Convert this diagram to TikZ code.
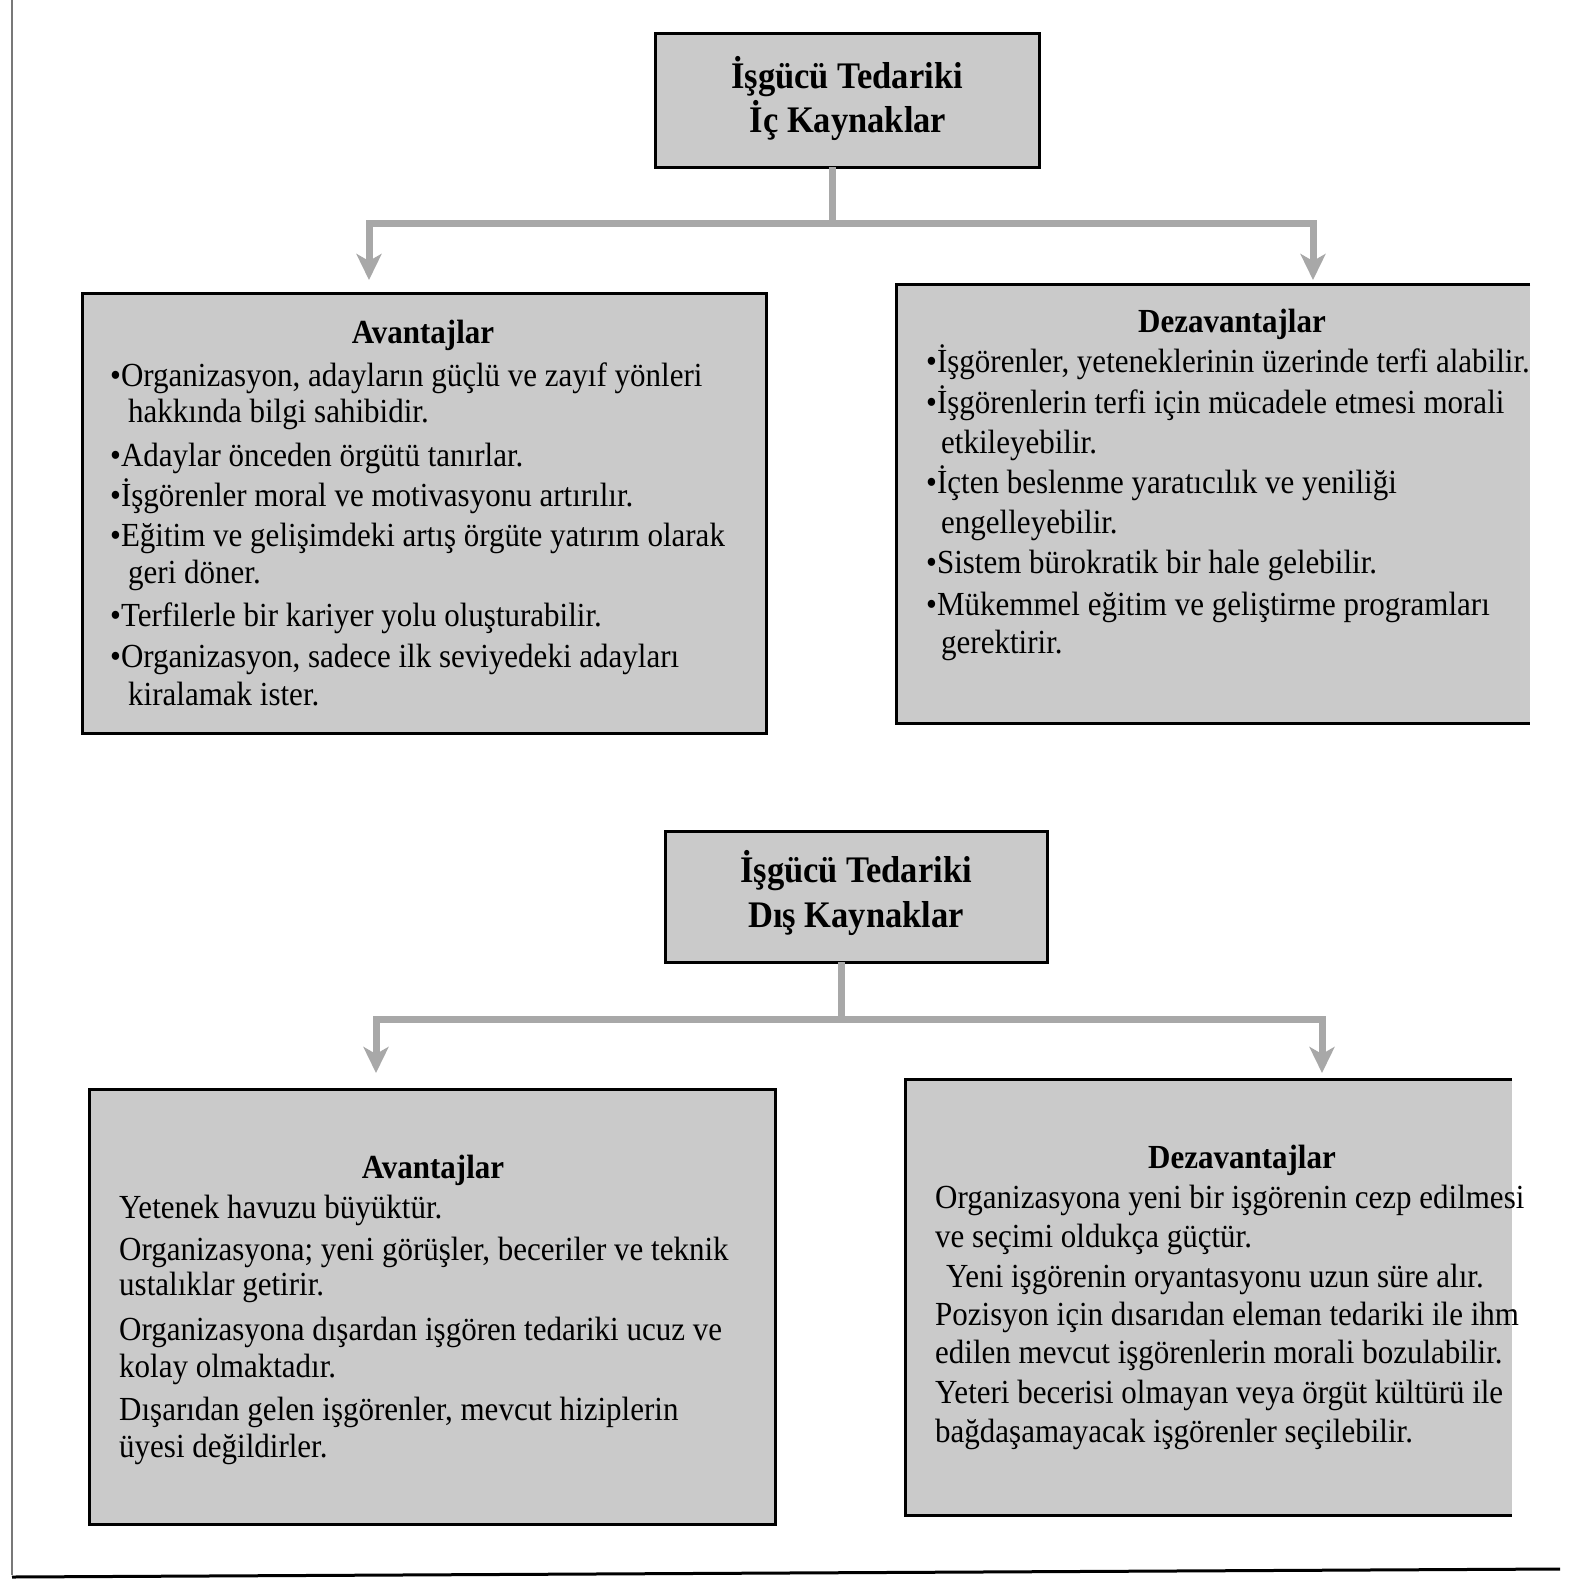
\documentclass[tikz,border=0pt]{standalone}
\usepackage{fontspec}
\setmainfont{Liberation Serif}[FakeStretch=0.92]
\usetikzlibrary{arrows.meta}
\definecolor{boxgray}{RGB}{202,202,202}
\definecolor{conngray}{RGB}{168,168,168}
\definecolor{framegray}{RGB}{120,120,120}
\begin{document}
\begin{tikzpicture}[x=1pt,y=-1pt,
  boxfill/.style={fill=boxgray, draw=none, inner sep=0pt, outer sep=0pt, anchor=north west},
  border/.style={draw=black, line width=3pt},
  body/.style={font=\fontsize{33.7}{40}\selectfont, inner sep=0pt, anchor=base west},
  head/.style={font=\bfseries\fontsize{33.7}{40}\selectfont, inner sep=0pt, anchor=base},
  title/.style={font=\bfseries\fontsize{37.5}{44}\selectfont, inner sep=0pt, anchor=base},
  conn/.style={draw=conngray, line width=7pt},
  arr/.style={conn, -{Stealth[length=26pt,width=25pt,inset=7pt,fill=conngray]}},
]
\useasboundingbox (0,0) rectangle (1588,1588);
\fill[white] (0,0) rectangle (1588,1588);

% page frame remnants
\draw[framegray, line width=2pt] (12,0) -- (12,1575);
\draw[black, line width=3pt] (12,1577) -- (1560,1569);

% boxes
\node[boxfill, minimum width=384pt, minimum height=134pt] (t1) at (655,33) {};
\node[boxfill, minimum width=684pt, minimum height=440pt] (a1) at (82,293) {};
\node[boxfill, minimum width=634pt, minimum height=439pt] (d1) at (896,284) {};
\node[boxfill, minimum width=382pt, minimum height=131pt] (t2) at (665,831) {};
\node[boxfill, minimum width=686pt, minimum height=435pt] (a2) at (89,1089) {};
\node[boxfill, minimum width=607pt, minimum height=436pt] (d2) at (905,1079) {};

\draw[border] (t1.north west) rectangle (t1.south east);
\draw[border] (a1.north west) rectangle (a1.south east);
\draw[border] (d1.north east) -- (d1.north west) -- (d1.south west) -- (d1.south east);
\draw[border] (t2.north west) rectangle (t2.south east);
\draw[border] (a2.north west) rectangle (a2.south east);
\draw[border] (d2.north east) -- (d2.north west) -- (d2.south west) -- (d2.south east);

% connectors
\coordinate (j1) at (832,223);
\coordinate (tipL1) at (369,280);
\coordinate (tipR1) at (1313,280);
\draw[conn] (t1.south -| j1) -- (j1);
\draw[arr] (j1) -| (tipL1);
\draw[arr] (j1) -| (tipR1);

\coordinate (j2) at (841,1019);
\coordinate (tipL2) at (376,1073);
\coordinate (tipR2) at (1322,1073);
\draw[conn] (t2.south -| j2) -- (j2);
\draw[arr] (j2) -| (tipL2);
\draw[arr] (j2) -| (tipR2);

% titles
\node[title] (t1a) at (847,88) {İşgücü Tedariki};
\node[title] (t1b) at (848,132) {İç Kaynaklar};
\node[title] (t2a) at (856,882) {İşgücü Tedariki};
\node[title] (t2b) at (856,927) {Dış Kaynaklar};

% A1
\node[head] (a1h) at (423,343) {Avantajlar};
\node[body] (a1l1) at (110,386) {•Organizasyon, adayların güçlü ve zayıf yönleri};
\node[body] (a1l2) at (128,422) {hakkında bilgi sahibidir.};
\node[body] (a1l3) at (110,466) {•Adaylar önceden örgütü tanırlar.};
\node[body] (a1l4) at (110,506) {•İşgörenler moral ve motivasyonu artırılır.};
\node[body] (a1l5) at (110,546) {•Eğitim ve gelişimdeki artış örgüte yatırım olarak};
\node[body] (a1l6) at (128,583) {geri döner.};
\node[body] (a1l7) at (110,626) {•Terfilerle bir kariyer yolu oluşturabilir.};
\node[body] (a1l8) at (110,667) {•Organizasyon, sadece ilk seviyedeki adayları};
\node[body] (a1l9) at (128,705) {kiralamak ister.};

% D1
\node[head] (d1h) at (1232,332) {Dezavantajlar};
\node[body] (d1l1) at (926,372) {•İşgörenler, yeteneklerinin üzerinde terfi alabilir.};
\node[body] (d1l2) at (926,413) {•İşgörenlerin terfi için mücadele etmesi morali};
\node[body] (d1l3) at (941,453) {etkileyebilir.};
\node[body] (d1l4) at (926,493) {•İçten beslenme yaratıcılık ve yeniliği};
\node[body] (d1l5) at (941,533) {engelleyebilir.};
\node[body] (d1l6) at (926,573) {•Sistem bürokratik bir hale gelebilir.};
\node[body] (d1l7) at (926,615) {•Mükemmel eğitim ve geliştirme programları};
\node[body] (d1l8) at (941,653) {gerektirir.};

% A2
\node[head] (a2h) at (433,1178) {Avantajlar};
\node[body] (a2l1) at (119,1218) {Yetenek havuzu büyüktür.};
\node[body] (a2l2) at (119,1260) {Organizasyona; yeni görüşler, beceriler ve teknik};
\node[body] (a2l3) at (119,1295) {ustalıklar getirir.};
\node[body] (a2l4) at (119,1340) {Organizasyona dışardan işgören tedariki ucuz ve};
\node[body] (a2l5) at (119,1377) {kolay olmaktadır.};
\node[body] (a2l6) at (119,1420) {Dışarıdan gelen işgörenler, mevcut hiziplerin};
\node[body] (a2l7) at (119,1457) {üyesi değildirler.};

% D2
\node[head] (d2h) at (1242,1168) {Dezavantajlar};
\node[body] (d2l1) at (935,1208) {Organizasyona yeni bir işgörenin cezp edilmesi};
\node[body] (d2l2) at (935,1247) {ve seçimi oldukça güçtür.};
\node[body] (d2l3) at (946,1287) {Yeni işgörenin oryantasyonu uzun süre alır.};
\node[body] (d2l4) at (935,1325) {Pozisyon için dısarıdan eleman tedariki ile ihm};
\node[body] (d2l5) at (935,1363) {edilen mevcut işgörenlerin morali bozulabilir.};
\node[body] (d2l6) at (935,1403) {Yeteri becerisi olmayan veya örgüt kültürü ile};
\node[body] (d2l7) at (935,1442) {bağdaşamayacak işgörenler seçilebilir.};
\end{tikzpicture}
\end{document}
